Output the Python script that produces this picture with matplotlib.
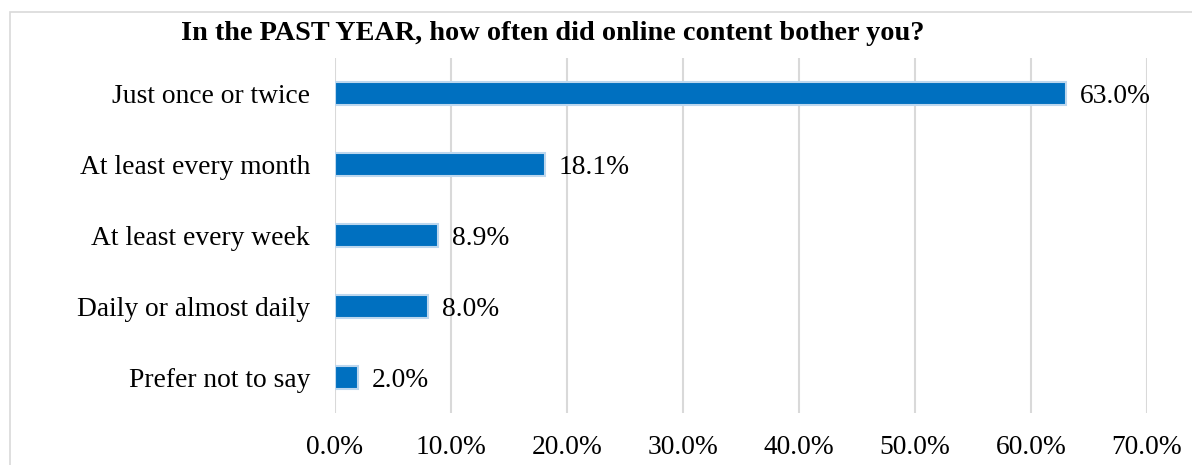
import matplotlib
matplotlib.use("Agg")
import matplotlib.pyplot as plt
from matplotlib.patches import Rectangle
from matplotlib.ticker import FuncFormatter

categories = ["Just once or twice", "At least every month", "At least every week",
              "Daily or almost daily", "Prefer not to say"]
values = [63.0, 18.1, 8.9, 8.0, 2.0]
xticks = [0, 10, 20, 30, 40, 50, 60, 70]
title = "In the PAST YEAR, how often did online content bother you?"

plt.rcParams["font.family"] = ["Liberation Serif", "DejaVu Serif"]

fig = plt.figure(figsize=(11.92, 4.65), dpi=100)
ax = fig.add_axes([335 / 1192, 1 - 413 / 465, (1147 - 335) / 1192, (413 - 58) / 465])

# light frame around the chart area (runs off the right and bottom edges)
fig.patches.append(Rectangle((10 / 1192, -0.05), 1.05, 1.05 - 12 / 465,
                             transform=fig.transFigure, fill=False,
                             edgecolor="#d9d9d9", linewidth=1.2))

ypos = list(range(len(categories)))
ax.barh(ypos, values, height=0.32, color="#0070C0", edgecolor="#BDD7EE",
        linewidth=1.5, zorder=3)

for y, v in zip(ypos, values):
    ax.annotate(f"{v:.1f}%", (v, y), xytext=(10, -2), textcoords="offset points",
                va="center", ha="left", fontsize=19.8, color="black")

ax.set_ylim(len(categories) - 0.5, -0.5)
ax.set_xlim(0, 70)
ax.set_xticks(xticks)
ax.xaxis.set_major_formatter(FuncFormatter(lambda x, _: f"{x:.1f}%"))
ax.set_yticks(ypos)
ax.set_yticklabels(categories)
ax.tick_params(axis="both", length=0, labelsize=19.8)
ax.tick_params(axis="x", pad=16)
ax.tick_params(axis="y", pad=18)
ax.grid(axis="x", color="#d9d9d9", linewidth=1.5, zorder=0)
for s in ax.spines.values():
    s.set_visible(False)

fig.text(553 / 1192, 1 - 34 / 465, title, ha="center", va="center",
         fontsize=20.3, fontweight="bold")

fig.savefig("out.png", dpi=100)
